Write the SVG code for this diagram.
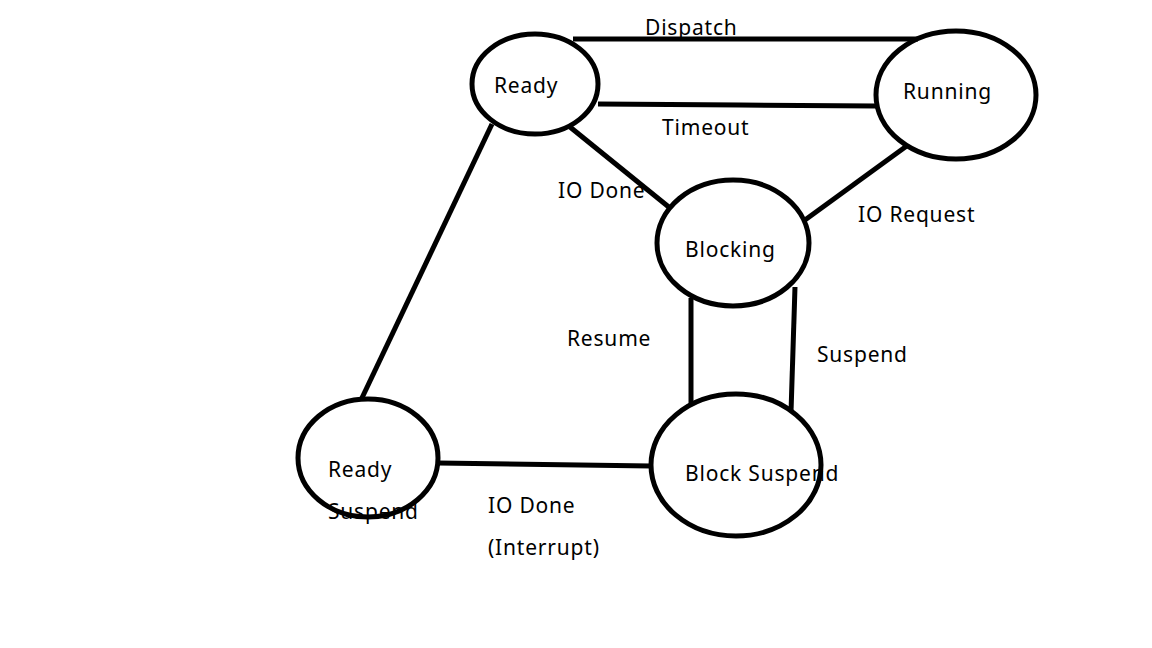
<svg xmlns="http://www.w3.org/2000/svg" width="1152" height="648" viewBox="0 0 1152 648">
<style>
.n{fill:none;stroke:#000;stroke-width:5}
.c{fill:none;stroke:#000;stroke-width:5;stroke-linecap:butt}
text{font-family:"Noto Sans","Open Sans",sans-serif;font-size:21px;letter-spacing:0.8px;fill:#000}
</style>
<rect width="1152" height="648" fill="#fff"/>
<g id="connectors">
<path class="c" d="M573 39 L918 39"/>
<path class="c" d="M598 104 L740 105 L876 106"/>
<path class="c" d="M570 127 L670 208"/>
<path class="c" d="M908 145 L805 220"/>
<path class="c" d="M492 124 L361 400"/>
<path class="c" d="M438 463 L651 466"/>
<path class="c" d="M691 298 L691 405"/>
<path class="c" d="M795 287 L791 412"/>
</g>
<g id="labels">
<text x="645" y="35">Dispatch</text>
<text x="662" y="135">Timeout</text>
<text x="558" y="198">IO Done</text>
<text x="858" y="222">IO Request</text>
<text x="567" y="346">Resume</text>
<text x="817" y="362">Suspend</text>
<text x="488" y="513">IO Done</text>
<text x="488" y="555">(Interrupt)</text>
</g>
<g id="ready"><ellipse class="n" cx="535" cy="84" rx="63" ry="50"/><text x="494" y="93">Ready</text></g>
<g id="running"><ellipse class="n" cx="956" cy="95" rx="80" ry="64"/><text x="903" y="99">Running</text></g>
<g id="blocking"><ellipse class="n" cx="733" cy="243" rx="76" ry="63"/><text x="685" y="257">Blocking</text></g>
<g id="block-suspend"><ellipse class="n" cx="736" cy="465" rx="85" ry="71"/><text x="685" y="481">Block Suspend</text></g>
<g id="ready-suspend"><text x="328" y="477">Ready</text><text x="328" y="519">Suspend</text><ellipse class="n" cx="368" cy="458" rx="70" ry="59"/></g>
</svg>
